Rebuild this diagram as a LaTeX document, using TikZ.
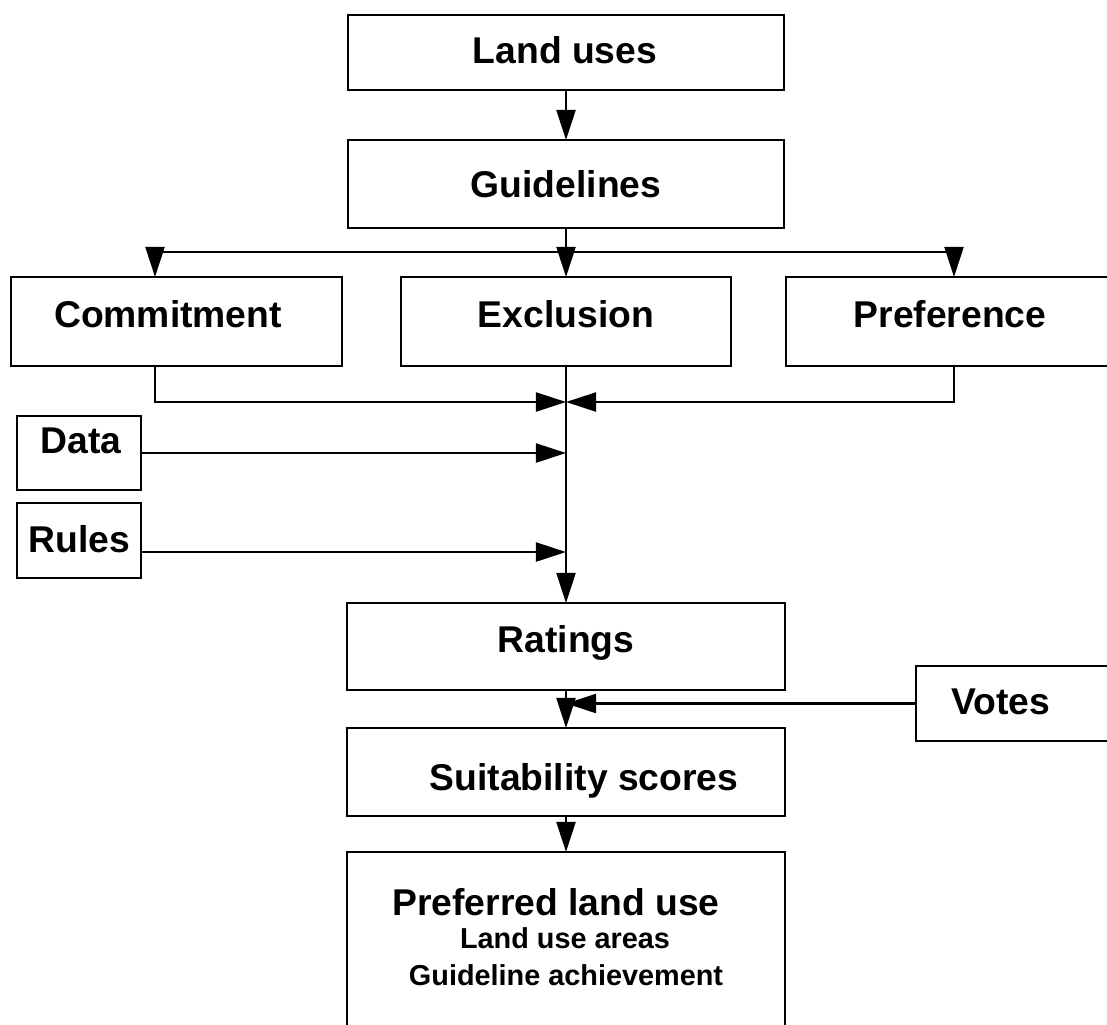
\documentclass[tikz,border=0pt]{standalone}
\usepackage{fontspec}
\setmainfont{Liberation Sans}
\usetikzlibrary{arrows.meta}

\begin{document}
\begin{tikzpicture}[x=0.01cm, y=-0.01cm]
        % Styles for the boxes, their texts and the arrows
        \tikzset{
            box/.style={draw, rectangle, line width=0.65pt, inner sep=0, outer sep=0},
            lbl/.style={anchor=base, inner sep=0, font=\fontsize{10.6}{12}\selectfont\bfseries},
            sublbl/.style={lbl, font=\fontsize{8.2}{10}\selectfont\bfseries},
            arr/.style={line width=0.6pt, -{Triangle[length=0.3cm, width=0.19cm]}},
        }

        % Page size, boxes on the right and at the bottom run off the page
        \useasboundingbox (0,0) rectangle (1107,1024);
        \clip (0,0) rectangle (1107,1024);

        % Main column
        \node[box, minimum width=4.36cm, minimum height=0.75cm] (landuses) at (566,52.5) {};
        \node[box, minimum width=4.36cm, minimum height=0.88cm] (guidelines) at (566,184) {};
        \node[box, minimum width=4.38cm, minimum height=0.87cm] (ratings) at (566,646.5) {};
        \node[box, minimum width=4.38cm, minimum height=0.88cm] (suitability) at (566,772) {};
        \node[box, minimum width=4.38cm, minimum height=2.08cm] (preferred) at (566,956) {};

        % Guideline kinds
        \node[box, minimum width=3.31cm, minimum height=0.89cm] (commitment) at (176.5,321.5) {};
        \node[box, minimum width=3.30cm, minimum height=0.89cm] (exclusion) at (566,321.5) {};
        \node[box, minimum width=3.31cm, minimum height=0.89cm] (preference) at (951.5,321.5) {};

        % Side inputs
        \node[box, minimum width=1.24cm, minimum height=0.74cm] (data) at (79,453) {};
        \node[box, minimum width=1.24cm, minimum height=0.75cm] (rules) at (79,540.5) {};
        \node[box, minimum width=2.14cm, minimum height=0.75cm] (votes) at (1023,703.5) {};

        % Texts
        \node[lbl] (landusesText) at (565,63) {Land uses};
        \node[lbl] (guidelinesText) at (566,197) {Guidelines};
        \node[lbl] (commitmentText) at (168,327) {Commitment};
        \node[lbl] (exclusionText) at (566,327) {Exclusion};
        \node[lbl] (preferenceText) at (950,327) {Preference};
        \node[lbl] (dataText) at (81,453) {Data};
        \node[lbl] (rulesText) at (79.5,552) {Rules};
        \node[lbl] (ratingsText) at (566,652) {Ratings};
        \node[lbl] (votesText) at (1001,714) {Votes};
        \node[lbl] (suitabilityText) at (584,790) {Suitability scores};
        \node[lbl] (preferredText) at (556,915) {Preferred land use};
        \node[sublbl] (areasText) at (565,948) {Land use areas};
        \node[sublbl] (achievementText) at (566,985) {Guideline achievement};

        % Points where the connectors split and join
        \coordinate (split) at (566,252);
        \coordinate (splitL) at (155,252);
        \coordinate (splitR) at (954,252);
        \coordinate (merge) at (566,402);
        \coordinate (mergeL) at (155,402);
        \coordinate (mergeR) at (954,402);
        \coordinate (rulesOut) at (141,552);

        \begin{scope}[arr]
            \draw (landuses.south) -- (guidelines.north);
            \draw[-] (guidelines.south) -- (split);
            \draw[-] (splitL) -- (splitR);
            \draw (splitL) -- (splitL |- commitment.north);
            \draw (split) -- (exclusion.north);
            \draw (splitR) -- (splitR |- preference.north);

            \draw (mergeL |- commitment.south) -- (mergeL) -- (merge);
            \draw (mergeR |- preference.south) -- (mergeR) -- (merge);
            \draw (exclusion.south) -- (ratings.north);
            \draw (data.east) -- (data.east -| merge);
            \draw (rulesOut) -- (rulesOut -| merge);

            \draw (ratings.south) -- (suitability.north);
            \draw (votes.west) -- (votes.west -| merge);
            \draw (suitability.south) -- (preferred.north);
        \end{scope}
\end{tikzpicture}
\end{document}
